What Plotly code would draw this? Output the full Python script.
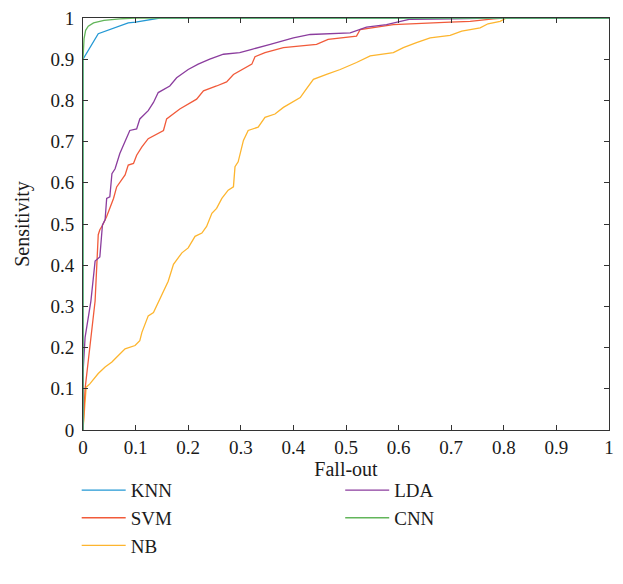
import plotly.graph_objects as go

# ROC data (Fall-out, Sensitivity)
knn_x = [0, 0, 0.029, 0.086, 0.1, 0.146, 1]
knn_y = [0, 0.9, 0.962, 0.988, 0.99, 1, 1]

cnn_x = [0, 0, 0.002, 0.005, 0.01, 0.02, 0.04, 0.07, 0.1, 1]
cnn_y = [0, 0.9, 0.95, 0.97, 0.98, 0.988, 0.994, 0.998, 1, 1]

lda_x = [0, 0, 0.004, 0.01, 0.015, 0.023, 0.032, 0.037, 0.042, 0.045, 0.051, 0.055, 0.061,
         0.070, 0.083, 0.089, 0.102, 0.108, 0.124, 0.134, 0.143, 0.165, 0.178, 0.2, 0.219,
         0.241, 0.267, 0.298, 0.321, 0.349, 0.356, 0.4, 0.432, 0.508, 0.539, 0.577, 0.603,
         0.622, 0.7, 0.78, 1]
lda_y = [0, 0.137, 0.225, 0.28, 0.313, 0.41, 0.42, 0.498, 0.51, 0.562, 0.566, 0.622, 0.634,
         0.671, 0.707, 0.727, 0.731, 0.755, 0.775, 0.795, 0.819, 0.835, 0.855, 0.875, 0.888,
         0.9, 0.912, 0.916, 0.924, 0.933, 0.936, 0.952, 0.96, 0.964, 0.978, 0.984, 0.992,
         0.997, 0.998, 1, 1]

svm_x = [0, 0.004, 0.023, 0.029, 0.032, 0.036, 0.045, 0.051, 0.058, 0.064, 0.070, 0.080, 0.086,
         0.096, 0.102, 0.112, 0.124, 0.14, 0.153, 0.159, 0.172, 0.184, 0.216, 0.229, 0.254,
         0.273, 0.286, 0.298, 0.321, 0.327, 0.346, 0.381, 0.444, 0.466, 0.52, 0.527, 0.59,
         0.698, 0.736, 0.78, 0.8, 1]
svm_y = [0, 0.1, 0.313, 0.474, 0.486, 0.494, 0.518, 0.538, 0.562, 0.59, 0.602, 0.619, 0.643,
         0.647, 0.667, 0.687, 0.707, 0.719, 0.727, 0.755, 0.767, 0.779, 0.803, 0.823, 0.835,
         0.845, 0.863, 0.871, 0.888, 0.906, 0.916, 0.928, 0.936, 0.948, 0.956, 0.972, 0.984,
         0.99, 0.992, 0.998, 1, 1]

nb_x = [0, 0.006, 0.013, 0.029, 0.042, 0.055, 0.061, 0.080, 0.099, 0.108, 0.112, 0.118, 0.124,
        0.134, 0.143, 0.15, 0.162, 0.172, 0.188, 0.2, 0.213, 0.226, 0.235, 0.245, 0.254, 0.264,
        0.276, 0.286, 0.289, 0.295, 0.302, 0.305, 0.314, 0.333, 0.346, 0.365, 0.381, 0.397,
        0.413, 0.422, 0.438, 0.463, 0.489, 0.52, 0.546, 0.59, 0.609, 0.634, 0.66, 0.698, 0.72,
        0.755, 0.77, 0.793, 0.805, 1]
nb_y = [0, 0.104, 0.112, 0.137, 0.153, 0.165, 0.173, 0.197, 0.205, 0.217, 0.237, 0.257, 0.277,
        0.285, 0.309, 0.325, 0.361, 0.402, 0.43, 0.442, 0.47, 0.478, 0.494, 0.526, 0.538, 0.562,
        0.582, 0.59, 0.639, 0.651, 0.687, 0.703, 0.727, 0.735, 0.759, 0.767, 0.783, 0.795,
        0.807, 0.823, 0.851, 0.863, 0.875, 0.892, 0.908, 0.916, 0.928, 0.94, 0.952, 0.958, 0.968,
        0.976, 0.986, 0.992, 1, 1]

tick_vals = [0, 0.1, 0.2, 0.3, 0.4, 0.5, 0.6, 0.7, 0.8, 0.9, 1]
tick_text = ["0", "0.1", "0.2", "0.3", "0.4", "0.5", "0.6", "0.7", "0.8", "0.9", "1"]

FONT = "Liberation Serif"
TXT = "#1a1a1a"

fig = go.Figure()
fig.add_trace(go.Scatter(x=nb_x, y=nb_y, mode="lines", name="NB",
                         line=dict(color="#fdb52e", width=1.3), legend="legend", legendrank=3))
fig.add_trace(go.Scatter(x=svm_x, y=svm_y, mode="lines", name="SVM",
                         line=dict(color="#f15a3a", width=1.3), legend="legend", legendrank=2))
fig.add_trace(go.Scatter(x=lda_x, y=lda_y, mode="lines", name="LDA",
                         line=dict(color="#8b3d9e", width=1.3), legend="legend2", legendrank=1))
fig.add_trace(go.Scatter(x=knn_x, y=knn_y, mode="lines", name="KNN",
                         line=dict(color="#2398d4", width=1.3), legend="legend", legendrank=1))
fig.add_trace(go.Scatter(x=cnn_x, y=cnn_y, mode="lines", name="CNN",
                         line=dict(color="#62b55a", width=1.3), legend="legend2", legendrank=2))

axis_common = dict(range=[0, 1], tickvals=tick_vals, ticktext=tick_text, ticks="inside",
                   ticklen=5, tickwidth=1, tickcolor="#333", showline=True, linecolor="#333",
                   linewidth=1, mirror="allticks", showgrid=False, zeroline=False,
                   automargin=False, ticklabeloverflow="allow",
                   tickfont=dict(family=FONT, size=19, color=TXT))

legend_common = dict(orientation="v", font=dict(family=FONT, size=19, color=TXT),
                     bgcolor="rgba(0,0,0,0)", yanchor="top", xanchor="left",
                     itemwidth=44, tracegroupgap=0)

fig.update_layout(
    width=607, height=568,
    margin=dict(l=75, r=6, t=10, b=146, autoexpand=False),
    paper_bgcolor="white", plot_bgcolor="white",
    font=dict(family=FONT, size=19, color=TXT),
    xaxis=dict(**axis_common, title=dict(text="Fall-out", font=dict(family=FONT, size=20, color=TXT), standoff=0)),
    yaxis=dict(**axis_common, ticklabelstandoff=4,
               title=dict(text="Sensitivity", font=dict(family=FONT, size=20, color=TXT), standoff=15)),
    legend=dict(**legend_common, x=-0.012, y=-0.1),
    legend2=dict(**legend_common, x=0.489, y=-0.1),
    showlegend=True,
)

fig.write_html("out.html")
